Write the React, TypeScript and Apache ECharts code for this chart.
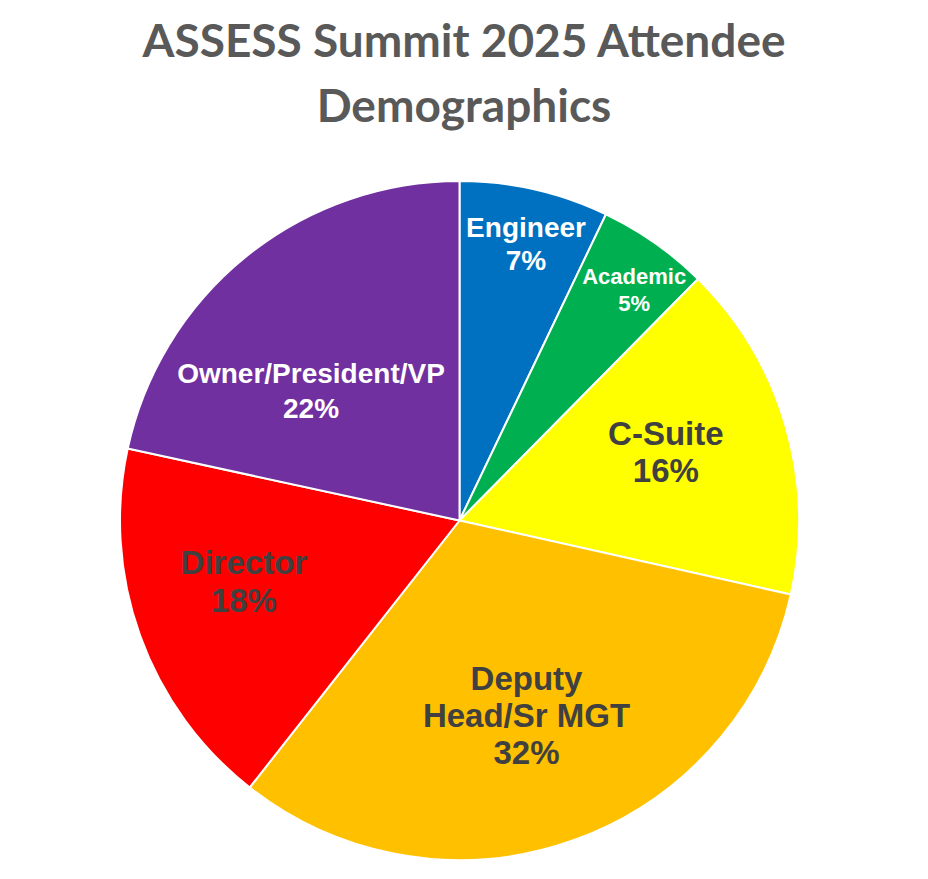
import React, { useRef, useEffect } from 'react';
import * as echarts from 'echarts';

// slice shares (percent of attendees)
const categories = ['Engineer', 'Academic', 'C-Suite', 'Deputy Head/Sr MGT', 'Director', 'Owner/President/VP'];
const shares = [7.1, 5.3, 16.1, 32.1, 17.8, 21.6];
const sliceColors = ['#0070C0', '#00B050', '#FFFF00', '#FFC000', '#FF0000', '#7030A0'];
const labelColors = ['#FFFFFF', '#FFFFFF', '#404040', '#404040', '#404040', '#FFFFFF'];
const labelSizes = [28, 22, 33, 33, 33, 28];
const labelLineHeights = [33, 27, 37, 37, 38, 35];
// inner radius (share of R) of the transparent ring each label sits on
const labelRings = [0.674, 0.7, 0.2, 0.21, 0.32, 0.16];
// small nudges so labels sit where the reference puts them
const labelNudges = [[3, 4], [7, 8], [8, -10], [-3, -1], [-2, -16], [-23, 26]];

const TITLE = 'ASSESS Summit 2025 Attendee\nDemographics';

const R = 339.5;
const CENTER = [459.5, 520.5];

const App: React.FC = () => {
    const chartRef = useRef<HTMLDivElement>(null);

    useEffect(() => {
        document.body.style.margin = '0';
        if (!chartRef.current) return;
        const chart = echarts.init(chartRef.current, null, { renderer: 'svg' });

        // one transparent ring per label, so each label sits at its own radius
        const labelSeries = categories.map((_, k) => ({
            type: 'pie' as const,
            silent: true,
            center: CENTER,
            radius: [labelRings[k] * R, R],
            startAngle: 90,
            z: 3,
            avoidLabelOverlap: false,
            labelLayout: { dx: labelNudges[k][0], dy: labelNudges[k][1], hideOverlap: false },
            itemStyle: { color: 'rgba(0,0,0,0)', borderWidth: 0 },
            emphasis: { disabled: true },
            labelLine: { show: false },
            data: categories.map((name, i) => ({
                name,
                value: shares[i],
                label: {
                    show: i === k,
                    position: 'inside' as const,
                    color: labelColors[i],
                    fontSize: labelSizes[i],
                    lineHeight: labelLineHeights[i],
                    fontWeight: 'bold' as const,
                    fontFamily: '"Liberation Sans", Arial, sans-serif',
                    align: 'center' as const,
                    formatter: (p: any) =>
                        `${p.name.replace('Deputy ', 'Deputy\n')}\n${Math.round(p.percent)}%`,
                },
            })),
        }));

        const option: echarts.EChartsOption = {
            animation: false,
            backgroundColor: '#FFFFFF',
            title: {
                text: TITLE,
                left: 'center',
                top: 2,
                textStyle: {
                    fontFamily: 'Lato, "Open Sans", sans-serif',
                    fontWeight: 'bold',
                    fontSize: 46,
                    lineHeight: 65,
                    color: '#595959',
                },
            },
            series: [
                {
                    type: 'pie',
                    center: CENTER,
                    radius: [0, R],
                    startAngle: 90,
                    z: 2,
                    silent: true,
                    emphasis: { disabled: true },
                    label: { show: false },
                    labelLine: { show: false },
                    itemStyle: { borderColor: '#FFFFFF', borderWidth: 2 },
                    data: categories.map((name, i) => ({
                        name,
                        value: shares[i],
                        itemStyle: { color: sliceColors[i] },
                    })),
                },
                ...labelSeries,
            ] as any,
        };

        chart.setOption(option);

        return () => {
            chart.dispose();
        };
    }, []);

    return <div ref={chartRef} style={{ width: 928, height: 879 }} />;
};

export default App;
